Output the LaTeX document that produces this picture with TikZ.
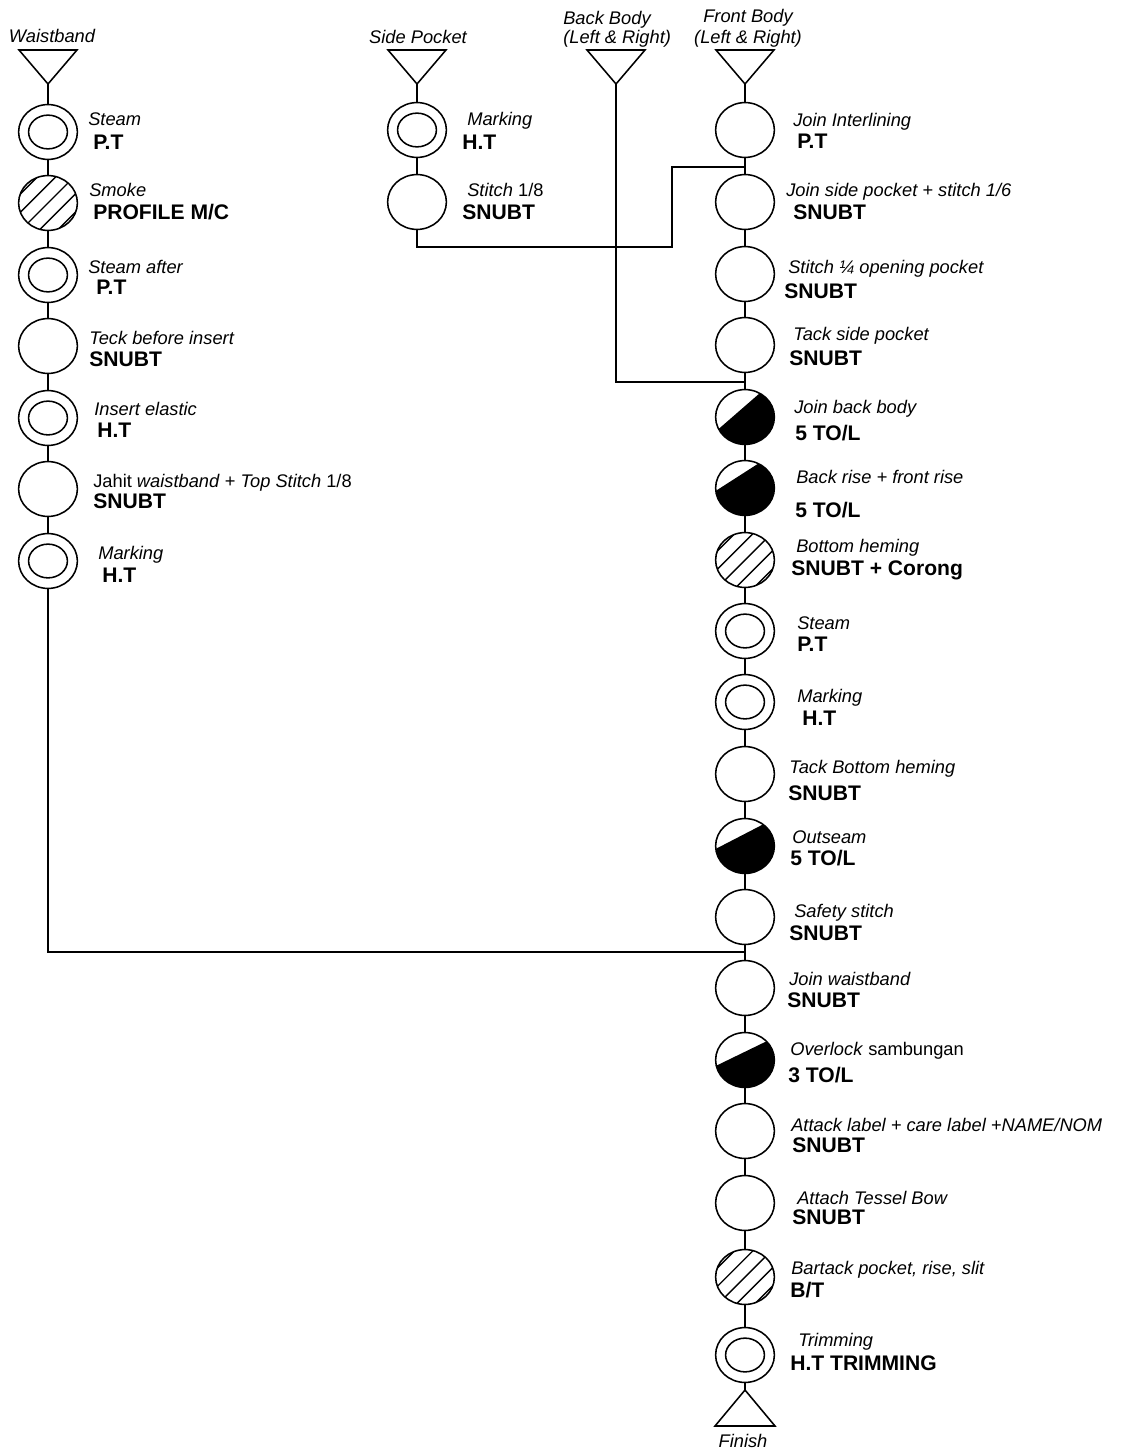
\documentclass[tikz,border=0pt]{standalone}
\usepackage{fontspec}
\setmainfont{Liberation Sans}
\usetikzlibrary{shapes.geometric,calc}

\begin{document}
\begin{tikzpicture}[x=0.025cm,y=-0.025cm,
    op/.style={draw, ellipse, line width=1.1pt, minimum width=41.8pt, minimum height=39pt, inner sep=0pt, fill=white},
    insp/.style={op, path picture={\draw[black, line width=1.1pt] (path picture bounding box.center) ellipse [x radius=13.8pt, y radius=12pt];}},
    hatch/.style={op, path picture={\foreach \k in {-3,...,3} \draw[black, line width=1pt] (path picture bounding box.center) ++({\k*6.5pt-30pt},{-\k*6.5pt-30pt}) -- ++(60pt,60pt);}},
    half/.style 2 args={op, path picture={\fill[fill=black] (path picture bounding box.center) ++({20.9pt*cos(#1)},{19.5pt*sin(#1)}) arc[start angle=#1, end angle=#2+360, x radius=20.9pt, y radius=19.5pt] -- cycle;}},
    tri/.style={draw, line width=1.1pt, line join=miter},
    flow/.style={line width=0.8pt},
    optext/.style={anchor=base west, inner sep=0pt, font=\fontsize{13}{15}\selectfont\itshape},
    mixtext/.style={anchor=base west, inner sep=0pt, font=\fontsize{13}{15}\selectfont},
    mctext/.style={anchor=base west, inner sep=0pt, font=\fontsize{15}{17}\selectfont\bfseries},
    headtext/.style={anchor=base, inner sep=0pt, font=\fontsize{13}{15}\selectfont\itshape}]
    \useasboundingbox (0,0) rectangle (1120,1452);

    % headers and input triangles
    \node[headtext] (wHead) at (52,43) {Waistband};
    \node[headtext] (sHead) at (418,44) {Side Pocket};
    \node[optext] (bHead1) at (563,25) {Back Body};
    \node[optext] (bHead2) at (563,44) {(Left \& Right)};
    \node[headtext] (fHead1) at (748,23) {Front Body};
    \node[headtext] (fHead2) at (748,44) {(Left \& Right)};

    \coordinate (wIn) at (48,84);
    \coordinate (sIn) at (417,84);
    \coordinate (bIn) at (616,84);
    \coordinate (fIn) at (745,84);
    \foreach \c in {wIn,sIn,bIn,fIn}
        \draw[tri] (\c) -- ++(-29,-34) -- ++(58,0) -- cycle;

    % waistband
    \node[insp] (w1) at (48,132) {};
    \node[optext] (w1a) at (88,126) {Steam};
    \node[mctext] (w1b) at (93,150) {P.T};
    \node[hatch] (w2) at (48,203) {};
    \node[optext] (w2a) at (89,197) {Smoke};
    \node[mctext] (w2b) at (93,219) {PROFILE M/C};
    \node[insp] (w3) at (48,275) {};
    \node[optext] (w3a) at (88,273) {Steam after};
    \node[mctext] (w3b) at (96,294) {P.T};
    \node[op] (w4) at (48,346) {};
    \node[optext] (w4a) at (89,344) {Teck before insert};
    \node[mctext] (w4b) at (89,366) {SNUBT};
    \node[insp] (w5) at (48,418) {};
    \node[optext] (w5a) at (94,415) {Insert elastic};
    \node[mctext] (w5b) at (97,437) {H.T};
    \node[op] (w6) at (48,489) {};
    \node[mixtext] (w6a) at (93,487) {Jahit \textit{waistband} + \textit{Top Stitch} 1/8};
    \node[mctext] (w6b) at (93,508) {SNUBT};
    \node[insp] (w7) at (48,561) {};
    \node[optext] (w7a) at (98,559) {Marking};
    \node[mctext] (w7b) at (102,582) {H.T};

    % side pocket
    \node[insp] (s1) at (417,130) {};
    \node[optext] (s1a) at (467,126) {Marking};
    \node[mctext] (s1b) at (462,150) {H.T};
    \node[op] (s2) at (417,202) {};
    \node[mixtext] (s2a) at (467,197) {\textit{Stitch} 1/8};
    \node[mctext] (s2b) at (462,219) {SNUBT};

    % front body
    \node[op] (f1) at (745,130) {};
    \node[optext] (f1a) at (793,127) {Join Interlining};
    \node[mctext] (f1b) at (797,149) {P.T};
    \node[op] (f2) at (745,202) {};
    \node[optext] (f2a) at (786,197) {Join side pocket + stitch 1/6};
    \node[mctext] (f2b) at (793,220) {SNUBT};
    \node[op] (f3) at (745,274) {};
    \node[optext] (f3a) at (788,273) {Stitch ¼ opening pocket};
    \node[mctext] (f3b) at (784,298) {SNUBT};
    \node[op] (f4) at (745,345) {};
    \node[optext] (f4a) at (793,340) {Tack side pocket};
    \node[mctext] (f4b) at (789,365) {SNUBT};
    \node[half={206}{60}] (f5) at (745,417) {};
    \node[optext] (f5a) at (794,413) {Join back body};
    \node[mctext] (f5b) at (795,440) {5 TO/L};
    \node[half={186}{63}] (f6) at (745,488) {};
    \node[optext] (f6a) at (796,483) {Back rise + front rise};
    \node[mctext] (f6b) at (795,517) {5 TO/L};
    \node[hatch] (f7) at (745,560) {};
    \node[optext] (f7a) at (796,552) {Bottom heming};
    \node[mctext] (f7b) at (791,575) {SNUBT + Corong};
    \node[insp] (f8) at (745,631) {};
    \node[optext] (f8a) at (797,629) {Steam};
    \node[mctext] (f8b) at (797,651) {P.T};
    \node[insp] (f9) at (745,702) {};
    \node[optext] (f9a) at (797,702) {Marking};
    \node[mctext] (f9b) at (802,725) {H.T};
    \node[op] (f10) at (745,774) {};
    \node[optext] (f10a) at (789,773) {Tack Bottom heming};
    \node[mctext] (f10b) at (788,800) {SNUBT};
    \node[half={186}{52}] (f11) at (745,846) {};
    \node[optext] (f11a) at (792,843) {Outseam};
    \node[mctext] (f11b) at (790,865) {5 TO/L};
    \node[op] (f12) at (745,917) {};
    \node[optext] (f12a) at (794,917) {Safety stitch};
    \node[mctext] (f12b) at (789,940) {SNUBT};
    \node[op] (f13) at (745,988) {};
    \node[optext] (f13a) at (789,985) {Join waistband};
    \node[mctext] (f13b) at (787,1007) {SNUBT};
    \node[half={192}{43}] (f14) at (745,1060) {};
    \node[mixtext] (f14a) at (790,1055) {\textit{Overlock} sambungan};
    \node[mctext] (f14b) at (788,1082) {3 TO/L};
    \node[op] (f15) at (745,1131) {};
    \node[optext] (f15a) at (791,1131) {Attack label + care label +NAME/NOM};
    \node[mctext] (f15b) at (792,1152) {SNUBT};
    \node[op] (f16) at (745,1203) {};
    \node[optext] (f16a) at (797,1204) {Attach Tessel Bow};
    \node[mctext] (f16b) at (792,1224) {SNUBT};
    \node[hatch] (f17) at (745,1277) {};
    \node[optext] (f17a) at (791,1274) {Bartack pocket, rise, slit};
    \node[mctext] (f17b) at (790,1297) {B/T};
    \node[insp] (f18) at (745,1355) {};
    \node[optext] (f18a) at (798,1346) {Trimming};
    \node[mctext] (f18b) at (790,1370) {H.T TRIMMING};

    % finish
    \coordinate (fOut) at (745,1390);
    \draw[tri] (fOut) -- ++(-30,36) -- ++(60,0) -- cycle;
    \node[headtext] (fEnd) at (743,1447) {Finish};

    % flow lines
    \draw[flow] (wIn) -- (w1) -- (w2) -- (w3) -- (w4) -- (w5) -- (w6) -- (w7);
    \draw[flow] (sIn) -- (s1) -- (s2);
    \draw[flow] (fIn) -- (f1) -- (f2) -- (f3) -- (f4) -- (f5) -- (f6) -- (f7) -- (f8) -- (f9)
        -- (f10) -- (f11) -- (f12) -- (f13) -- (f14) -- (f15) -- (f16) -- (f17) -- (f18) -- (fOut);

    \coordinate (spTurn) at (672,247);
    \coordinate (jsp) at (745,167);
    \coordinate (jbb) at (745,382);
    \coordinate (jw) at (745,952);
    \draw[flow] (s2.south) |- (spTurn) |- (jsp);
    \draw[flow] (bIn) |- (jbb);
    \draw[flow] (w7.south) |- (jw);
\end{tikzpicture}
\end{document}
